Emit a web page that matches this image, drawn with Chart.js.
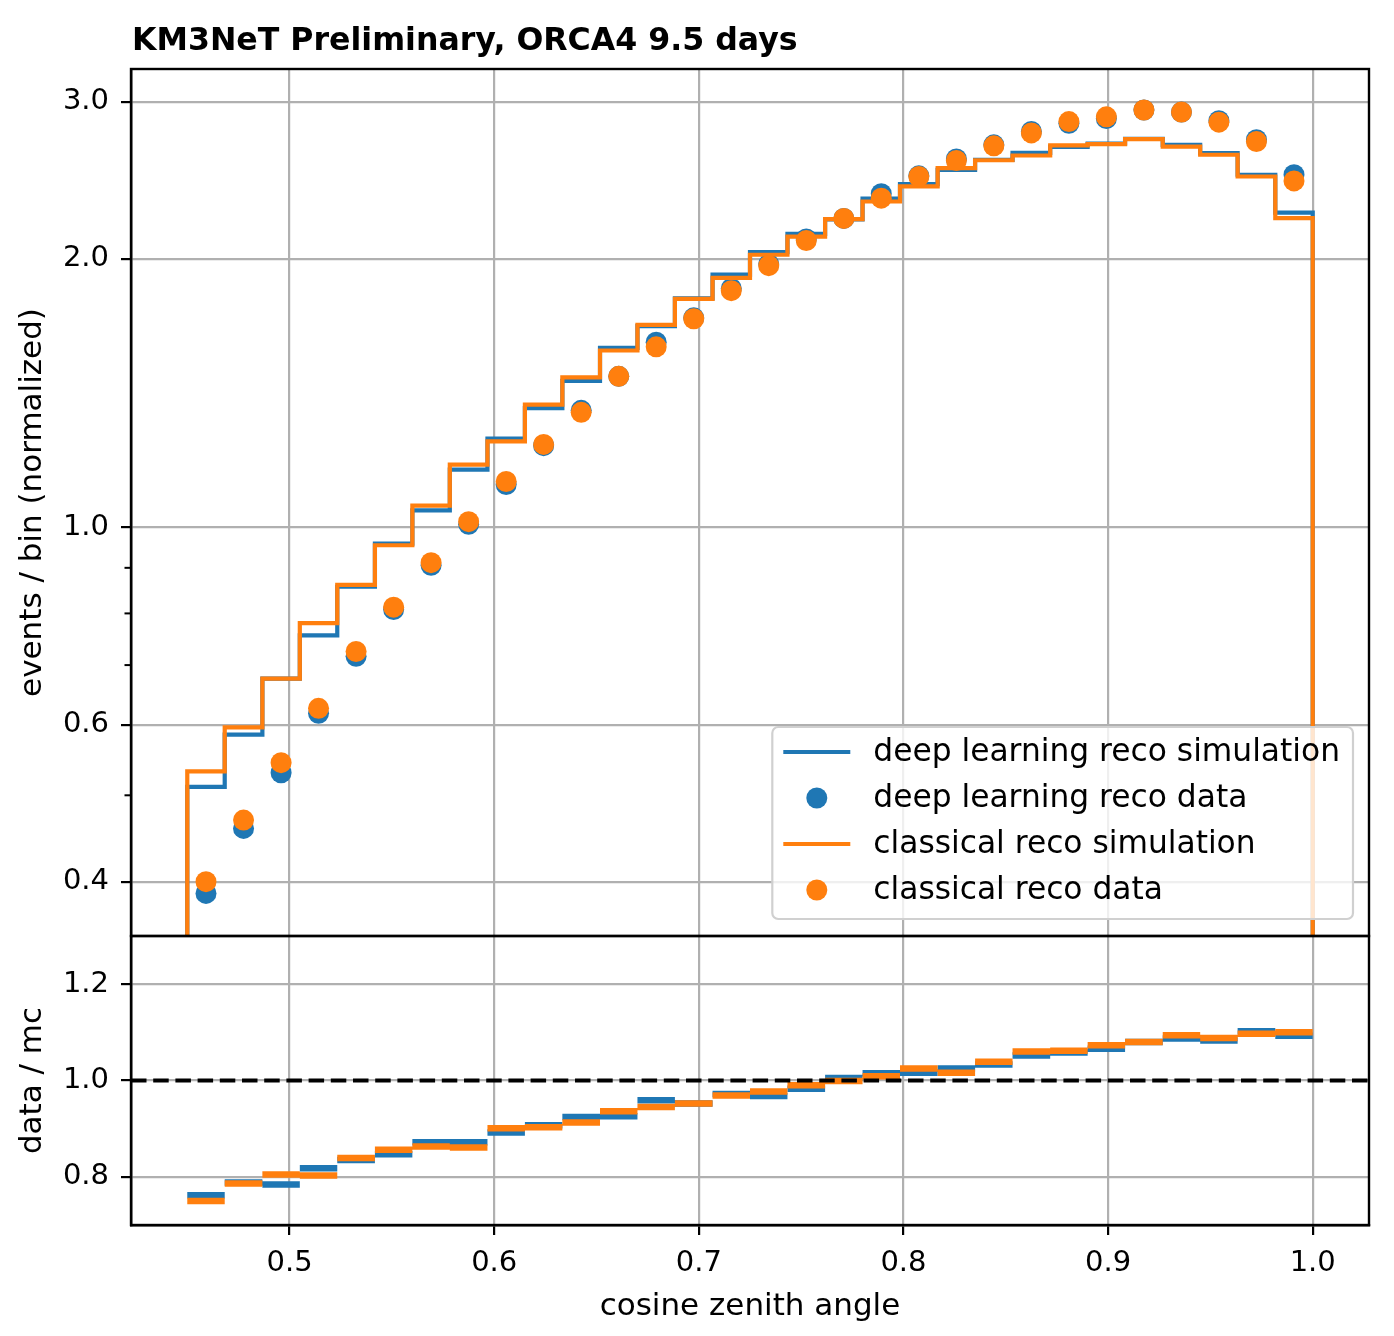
<!DOCTYPE html>
<html>
<head>
<meta charset="utf-8">
<script src="https://cdn.jsdelivr.net/npm/chart.js@4.4.1/dist/chart.umd.min.js"></script>
<style>
  body { margin: 0; background: #fff; }
  canvas { display: block; }
</style>
</head>
<body>
<canvas id="zenithChart" width="1394" height="1336"></canvas>
<script>
// bin edges in cosine zenith angle (30 bins from 0.45 to 1.0)
const binEdges = [0.45, 0.4683, 0.4867, 0.505, 0.5233, 0.5417, 0.56, 0.5783, 0.5967, 0.615,
    0.6333, 0.6517, 0.67, 0.6883, 0.7067, 0.725, 0.7433, 0.7617, 0.78, 0.7983,
    0.8167, 0.835, 0.8533, 0.8717, 0.89, 0.9083, 0.9267, 0.945, 0.9633, 0.9817, 1.0];

const dlSim = [0.511, 0.585, 0.676, 0.756, 0.857, 0.958, 1.044, 1.160, 1.257, 1.360,
    1.459, 1.589, 1.681, 1.806, 1.920, 2.035, 2.133, 2.214, 2.336, 2.426,
    2.517, 2.583, 2.630, 2.671, 2.694, 2.727, 2.685, 2.628, 2.485, 2.254];
const dlData = [0.388, 0.459, 0.530, 0.618, 0.716, 0.808, 0.906, 1.007, 1.116, 1.234,
    1.352, 1.476, 1.612, 1.717, 1.852, 1.973, 2.105, 2.220, 2.366, 2.478,
    2.588, 2.685, 2.779, 2.839, 2.873, 2.938, 2.922, 2.857, 2.720, 2.485];
const clSim = [0.532, 0.596, 0.676, 0.780, 0.861, 0.954, 1.057, 1.175, 1.248, 1.372,
    1.472, 1.578, 1.686, 1.803, 1.904, 2.021, 2.118, 2.216, 2.319, 2.411,
    2.528, 2.580, 2.612, 2.681, 2.690, 2.725, 2.673, 2.617, 2.474, 2.222];
const clData = [0.400, 0.469, 0.544, 0.626, 0.725, 0.813, 0.912, 1.014, 1.125, 1.238,
    1.345, 1.476, 1.593, 1.713, 1.842, 1.965, 2.097, 2.220, 2.339, 2.474,
    2.578, 2.678, 2.769, 2.851, 2.886, 2.938, 2.922, 2.847, 2.708, 2.446];

const dlRatio = [0.762, 0.788, 0.784, 0.818, 0.835, 0.847, 0.872, 0.872, 0.892, 0.907,
    0.924, 0.926, 0.959, 0.952, 0.972, 0.968, 0.983, 1.005, 1.015, 1.016,
    1.025, 1.033, 1.052, 1.058, 1.066, 1.080, 1.087, 1.083, 1.102, 1.093];
const clRatio = [0.750, 0.786, 0.805, 0.803, 0.839, 0.856, 0.863, 0.861, 0.901, 0.903,
    0.913, 0.936, 0.945, 0.952, 0.969, 0.977, 0.990, 0.999, 1.009, 1.025,
    1.016, 1.039, 1.060, 1.062, 1.073, 1.080, 1.094, 1.088, 1.097, 1.100];

const xTicks = [0.5, 0.6, 0.7, 0.8, 0.9, 1.0];
const mainTicks = [0.4, 0.6, 1.0, 2.0, 3.0];
const mainMinorTicks = [0.5, 0.7, 0.8, 0.9];
const ratioTicks = [0.8, 1.0, 1.2];

const xMin = 0.4225, xMax = 1.0275;
const mainMin = 0.3476, mainMax = 3.266;
const ratioMin = 0.7, ratioMax = 1.3;

const BLUE = '#1f77b4';
const ORANGE = '#ff7f0e';
const FONT = "'DejaVu Sans'";

// histogram outline, dropping to below the axis at both ends like a step hist
function stepPoints(values) {
    const pts = [{x: binEdges[0], y: 1e-3}];
    values.forEach((v, i) => {
        pts.push({x: binEdges[i], y: v});
        pts.push({x: binEdges[i + 1], y: v});
    });
    pts.push({x: binEdges[binEdges.length - 1], y: 1e-3});
    return pts;
}
function centerPoints(values) {
    return values.map((v, i) => ({x: (binEdges[i] + binEdges[i + 1]) / 2, y: v}));
}
// one horizontal bar per bin, no risers
function segmentPoints(values) {
    const pts = [];
    values.forEach((v, i) => {
        pts.push({x: binEdges[i], y: v}, {x: binEdges[i + 1], y: v}, {x: binEdges[i + 1], y: null});
    });
    return pts;
}

const legendItems = [
    {label: 'deep learning reco simulation', color: BLUE, kind: 'line'},
    {label: 'deep learning reco data', color: BLUE, kind: 'dot'},
    {label: 'classical reco simulation', color: ORANGE, kind: 'line'},
    {label: 'classical reco data', color: ORANGE, kind: 'dot'}
];

// keep each dataset inside its own panel
const panelClip = {
    id: 'panelClip',
    beforeDatasetDraw(chart, args) {
        const ys = args.meta.yScale;
        const ctx = chart.ctx;
        ctx.save();
        ctx.beginPath();
        ctx.rect(chart.chartArea.left, ys.top, chart.chartArea.right - chart.chartArea.left, ys.bottom - ys.top);
        ctx.clip();
    },
    afterDatasetDraw(chart) {
        chart.ctx.restore();
    }
};

const decor = {
    id: 'decor',
    afterDraw(chart) {
        const ctx = chart.ctx;
        const area = chart.chartArea;
        const main = chart.scales.main;
        const ratio = chart.scales.ratio;

        // frames
        ctx.save();
        ctx.strokeStyle = '#000';
        ctx.lineWidth = 2.4;
        ctx.strokeRect(area.left, main.top, area.right - area.left, main.bottom - main.top);
        ctx.strokeRect(area.left, ratio.top, area.right - area.left, ratio.bottom - ratio.top);

        // minor ticks on log axis
        ctx.lineWidth = 2;
        mainMinorTicks.forEach(v => {
            const y = main.getPixelForValue(v);
            ctx.beginPath();
            ctx.moveTo(area.left, y);
            ctx.lineTo(area.left - 6.5, y);
            ctx.stroke();
        });

        // title
        ctx.fillStyle = '#000';
        ctx.font = 'bold 31.6px ' + FONT;
        ctx.textAlign = 'left';
        ctx.textBaseline = 'alphabetic';
        ctx.fillText('KM3NeT Preliminary, ORCA4 9.5 days', area.left + 1, 50);

        // legend
        ctx.font = '31.3px ' + FONT;
        const textW = Math.max(...legendItems.map(it => ctx.measureText(it.label).width));
        const w = 101 + textW + 13;
        const h = 192;
        const bx = area.right - 16 - w;
        const by = main.bottom - 17 - h;
        ctx.beginPath();
        ctx.roundRect(bx, by, w, h, 6);
        ctx.fillStyle = 'rgba(255,255,255,0.8)';
        ctx.fill();
        ctx.strokeStyle = '#d0d0d0';
        ctx.lineWidth = 2.2;
        ctx.stroke();
        legendItems.forEach((it, i) => {
            const cy = by + 25 + i * 46;
            if (it.kind === 'line') {
                ctx.strokeStyle = it.color;
                ctx.lineWidth = 4.2;
                ctx.beginPath();
                ctx.moveTo(bx + 11, cy);
                ctx.lineTo(bx + 78, cy);
                ctx.stroke();
            } else {
                ctx.fillStyle = it.color;
                ctx.beginPath();
                ctx.arc(bx + 44.5, cy, 10.5, 0, Math.PI * 2);
                ctx.fill();
            }
            ctx.fillStyle = '#000';
            ctx.textBaseline = 'middle';
            ctx.fillText(it.label, bx + 101, cy + 1);
        });
        ctx.restore();
    }
};

const gridStyle = {
    color: '#b0b0b0',
    lineWidth: 2.2,
    tickColor: '#000',
    tickWidth: 2.2,
    tickLength: 10
};

const ctx = document.getElementById('zenithChart').getContext('2d');
new Chart(ctx, {
    type: 'line',
    data: {
        datasets: [
            {
                data: [{x: xMin, y: 1}, {x: xMax, y: 1}],
                yAxisID: 'ratio', borderColor: '#000', borderWidth: 4.2,
                borderDash: [15.5, 6.7], pointRadius: 0, order: 0
            },
            {
                data: segmentPoints(clRatio), yAxisID: 'ratio',
                borderColor: ORANGE, borderWidth: 6.5, pointRadius: 0, order: 1
            },
            {
                data: segmentPoints(dlRatio), yAxisID: 'ratio',
                borderColor: BLUE, borderWidth: 6.5, pointRadius: 0, order: 2
            },
            {
                data: centerPoints(clData), yAxisID: 'main', showLine: false,
                pointRadius: 10.5, pointBorderWidth: 0, pointBackgroundColor: ORANGE, order: 3
            },
            {
                data: stepPoints(clSim), yAxisID: 'main',
                borderColor: ORANGE, borderWidth: 4.2, pointRadius: 0, order: 4
            },
            {
                data: centerPoints(dlData), yAxisID: 'main', showLine: false,
                pointRadius: 10.5, pointBorderWidth: 0, pointBackgroundColor: BLUE, order: 5
            },
            {
                data: stepPoints(dlSim), yAxisID: 'main',
                borderColor: BLUE, borderWidth: 4.2, pointRadius: 0, order: 6
            }
        ]
    },
    options: {
        responsive: false,
        animation: false,
        devicePixelRatio: 1,
        layout: {padding: {left: 0, top: 69, right: 25, bottom: 0}},
        plugins: {
            legend: {display: false},
            tooltip: {enabled: false}
        },
        elements: {line: {tension: 0, borderCapStyle: 'butt', borderJoinStyle: 'miter'}},
        scales: {
            x: {
                type: 'linear', min: xMin, max: xMax, bounds: 'data',
                afterBuildTicks: s => { s.ticks = xTicks.map(v => ({value: v})); },
                afterFit: s => { s.height = 111; },
                grid: gridStyle,
                border: {color: '#000', width: 2.4},
                ticks: {
                    font: {family: FONT, size: 29}, color: '#000', padding: 11,
                    maxRotation: 0, autoSkip: false, callback: v => v.toFixed(1)
                },
                title: {
                    display: true, text: 'cosine zenith angle', color: '#000',
                    font: {family: FONT, size: 31}, padding: {top: 0, bottom: 10}
                }
            },
            ratio: {
                type: 'linear', position: 'left', stack: 'panels', stackWeight: 1,
                min: ratioMin, max: ratioMax, bounds: 'data',
                afterBuildTicks: s => { s.ticks = ratioTicks.map(v => ({value: v})); },
                afterFit: s => { s.width = 131; },
                grid: gridStyle,
                border: {color: '#000', width: 2.4},
                ticks: {font: {family: FONT, size: 29}, color: '#000', padding: 12, callback: v => v.toFixed(1)},
                title: {
                    display: true, text: 'data / mc', color: '#000',
                    font: {family: FONT, size: 31}, padding: {top: 14, bottom: 0}
                }
            },
            main: {
                type: 'logarithmic', position: 'left', stack: 'panels', stackWeight: 3,
                min: mainMin, max: mainMax, bounds: 'data',
                afterBuildTicks: s => { s.ticks = mainTicks.map(v => ({value: v})); },
                afterFit: s => { s.width = 131; },
                grid: gridStyle,
                border: {color: '#000', width: 2.4},
                ticks: {font: {family: FONT, size: 29}, color: '#000', padding: 12, callback: v => Number(v).toFixed(1)},
                title: {
                    display: true, text: 'events / bin (normalized)', color: '#000',
                    font: {family: FONT, size: 31}, padding: {top: 14, bottom: 0}
                }
            }
        }
    },
    plugins: [panelClip, decor]
});
</script>
</body>
</html>
